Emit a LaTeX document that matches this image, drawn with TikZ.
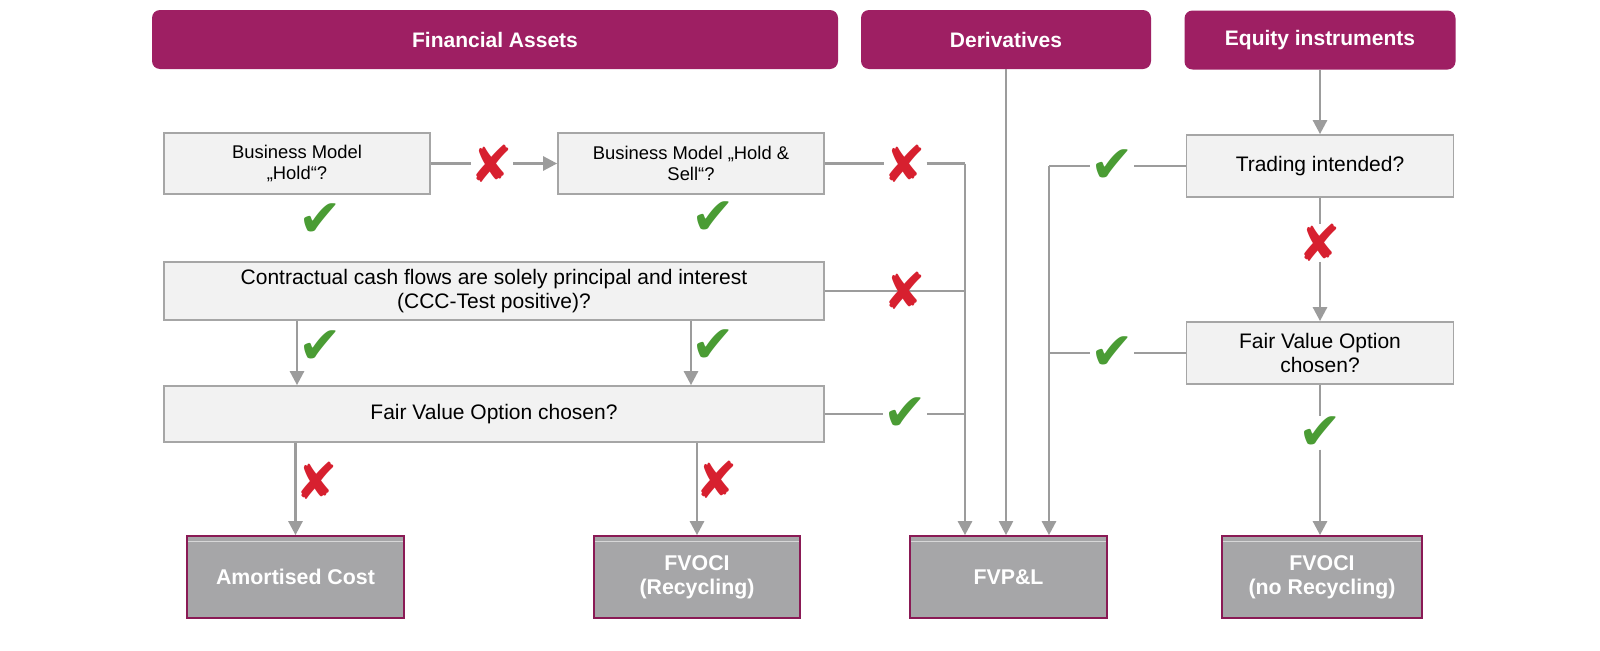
\documentclass[tikz,border=0pt]{standalone}
\usepackage{fontspec}
\setmainfont{Liberation Sans}
\newfontfamily\markfont{DejaVu Sans}
\usetikzlibrary{arrows.meta,positioning}
\definecolor{plum}{HTML}{9E1F63}
\definecolor{plumdark}{HTML}{8A1A55}
\definecolor{boxgray}{HTML}{F2F2F2}
\definecolor{edgegray}{HTML}{A6A6A6}
\definecolor{outgray}{HTML}{A6A6A8}
\definecolor{linegray}{HTML}{9C9C9C}
\definecolor{okgreen}{HTML}{4A9C34}
\definecolor{nored}{HTML}{D7202F}

\begin{document}
\begin{tikzpicture}[x=0.75pt,y=-0.75pt,
  header/.style={fill=plum,rounded corners=6pt,text=white,inner sep=0pt,
                 minimum height=44.25pt,font=\bfseries\fontsize{15.75}{18}\selectfont},
  question/.style={fill=boxgray,draw=edgegray,line width=1.3pt,align=center,inner sep=0pt,
                   font=\fontsize{15.75}{17.5}\selectfont},
  smalltext/.style={font=\fontsize{13.8}{16.3}\selectfont},
  outcome/.style={fill=outgray,draw=plumdark,line width=1.3pt,align=center,text=white,
                  inner sep=0pt,minimum height=61.5pt,font=\bfseries\fontsize{16}{18}\selectfont,
                  path picture={\draw[color=white!55!outgray,line width=0.8pt]
                    ([yshift=-4pt]path picture bounding box.north west) --
                    ([yshift=-4pt]path picture bounding box.north east);}},
  conn/.style={draw=linegray,line width=2pt,>={Triangle[width=10.5pt,length=10.5pt]}},
  okmark/.style={text=okgreen,inner sep=0pt,font=\markfont\fontsize{39}{39}\selectfont},
  nomark/.style={text=nored,inner sep=0pt,font=\markfont\fontsize{38}{38}\selectfont},
  gap/.style={fill=white}]
\useasboundingbox[fill=white] (0,0) rectangle (1600,650);

% headers
\node[header,minimum width=514.5pt] (fa) at (495,39.5) {Financial Assets};
\node[header,minimum width=217.5pt] (deriv) at (1006,39.5) {Derivatives};
\node[header,minimum width=203.25pt] (equity) at (1320,40) {Equity instruments};

% questions
\node[question,smalltext,minimum width=199.5pt,minimum height=45.75pt] (hold) at (297,163.5) {Business Model\\„Hold“?};
\node[question,smalltext,minimum width=199.5pt,minimum height=45.75pt] (holdsell) at (691,163.5) {Business Model „Hold \&\\Sell“?};
\node[question,minimum width=495pt,minimum height=43.5pt] (ccc) at (494,291) {Contractual cash flows are solely principal and interest\\(CCC-Test positive)?};
\node[question,minimum width=495pt,minimum height=42pt] (fvo) at (494,414) {Fair Value Option chosen?};
\node[question,minimum width=200.25pt,minimum height=46.5pt] (trading) at (1320,166) {Trading intended?};
\node[question,minimum width=200.25pt,minimum height=46.5pt] (fvoeq) at (1320,353) {Fair Value Option\\chosen?};

% outcomes
\node[outcome,minimum width=162.75pt] (amort) at (295.5,577) {Amortised Cost};
\node[outcome,minimum width=154.5pt] (fvoci) at (697,577) {FVOCI\\(Recycling)};
\node[outcome,minimum width=147.75pt] (fvpl) at (1008.5,577) {FVP\&L};
\node[outcome,minimum width=150pt] (fvocino) at (1322,577) {FVOCI\\(no Recycling)};

% marks
\node[nomark,gap] (x1) at (492,163.5) {✘};
\node[nomark,gap] (x2) at (905,163.5) {✘};
\node[okmark,gap] (c3) at (905,414) {✔};
\node[okmark,gap] (c4) at (1112,166) {✔};
\node[okmark,gap] (c5) at (1112,353) {✔};
\node[nomark,gap] (x6) at (1320,243) {✘};
\node[okmark,gap] (c8) at (1320,433) {✔};
\node[okmark] (c1) at (320,220) {✔};
\node[okmark] (c2) at (713,218) {✔};
\node[okmark] (c6) at (320,347) {✔};
\node[okmark] (c7) at (713,346) {✔};
\node[nomark] (x4) at (317,481) {✘};
\node[nomark] (x5) at (717,480) {✘};

\coordinate (busL) at (965,163.5);
\coordinate (busR) at (1049,166);

% financial assets
\draw[conn] (hold.east) -- (x1);
\draw[conn,->] (x1) -- (holdsell.west);
\draw[conn,->] (hold.south |- ccc.south) -- (hold.south |- fvo.north);
\draw[conn,->] (holdsell.south |- ccc.south) -- (holdsell.south |- fvo.north);
\draw[conn,->] (amort.north |- fvo.south) -- (amort.north);
\draw[conn,->] (fvoci.north |- fvo.south) -- (fvoci.north);
\draw[conn] (holdsell.east) -- (x2);
\draw[conn] (x2) -- (busL);
\draw[conn,->] (busL) -- (busL |- fvpl.north);
\draw[conn] (ccc.east) -- (ccc.east -| busL);
\node[nomark] (x3) at (905,291) {✘};
\draw[conn] (fvo.east) -- (c3);
\draw[conn] (c3) -- (c3 -| busL);

% derivatives
\draw[conn,line width=1.6pt,->] (deriv.south) -- (deriv.south |- fvpl.north);

% equity instruments
\draw[conn,->] (equity.south) -- (trading.north);
\draw[conn] (trading.south) -- (x6);
\draw[conn,->] (x6) -- (fvoeq.north);
\draw[conn] (fvoeq.south) -- (c8);
\draw[conn,->] (c8) -- (c8 |- fvocino.north);
\draw[conn] (trading.west) -- (c4);
\draw[conn] (c4) -- (busR);
\draw[conn,->] (busR) -- (busR |- fvpl.north);
\draw[conn] (fvoeq.west) -- (c5);
\draw[conn] (c5) -- (c5 -| busR);
\end{tikzpicture}
\end{document}
